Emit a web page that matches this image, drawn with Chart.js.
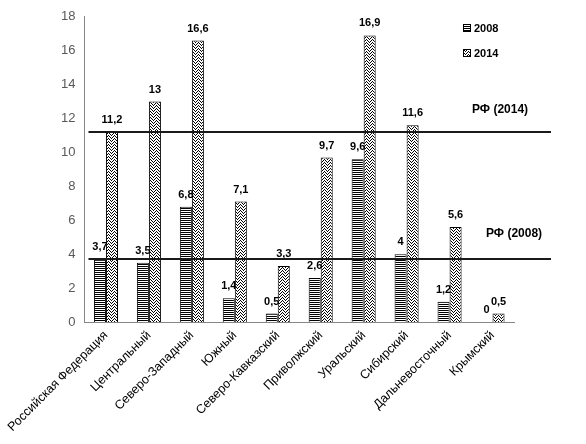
<!DOCTYPE html>
<html>
<head>
<meta charset="utf-8">
<script src="https://cdn.jsdelivr.net/npm/chart.js@4/dist/chart.umd.min.js"></script>
<style>
  html, body { margin: 0; padding: 0; background: #fff; }
  #wrap { width: 586px; height: 444px; }
</style>
</head>
<body>
<div id="wrap"><canvas id="c" width="586" height="444"></canvas></div>
<script>
const categories = ['Российская Федерация','Центральный','Северо-Западный','Южный','Северо-Кавказский','Приволжский','Уральский','Сибирский','Дальневосточный','Крымский'];
const series2008 = [3.7, 3.5, 6.8, 1.4, 0.5, 2.6, 9.6, 4, 1.2, 0];
const series2014 = [11.2, 13, 16.6, 7.1, 3.3, 9.7, 16.9, 11.6, 5.6, 0.5];
const seriesNames = ['2008', '2014'];
const refValues = [11.2, 3.7];
const refLabels = ['РФ (2014)', 'РФ (2008)'];
const yTicks = [0, 2, 4, 6, 8, 10, 12, 14, 16, 18];

function stripePattern() {
  const c = document.createElement('canvas');
  c.width = 4; c.height = 2;
  const x = c.getContext('2d');
  x.fillStyle = '#fff'; x.fillRect(0, 0, 4, 2);
  x.fillStyle = '#000'; x.fillRect(0, 0, 4, 1);
  return x.createPattern(c, 'repeat');
}
function zigzagPattern() {
  const w = 6, h = 6;
  const c = document.createElement('canvas');
  c.width = w; c.height = h;
  const x = c.getContext('2d');
  x.fillStyle = '#fff'; x.fillRect(0, 0, w, h);
  x.fillStyle = '#000';
  const tri = [0, 1, 2, 3, 2, 1];
  for (let i = 0; i < w; i++) {
    x.fillRect(i, tri[i] % h, 1, 1);
    x.fillRect(i, (tri[i] + 3) % h, 1, 1);
  }
  return x.createPattern(c, 'repeat');
}
const pat2008 = stripePattern();
const pat2014 = zigzagPattern();

const fmt = v => String(v).replace('.', ',');

const overlay = {
  id: 'overlay',
  afterDatasetsDraw(chart) {
    const ctx = chart.ctx;
    const y = chart.scales.y;
    const area = chart.chartArea;
    ctx.save();
    // data labels
    ctx.font = 'bold 11px "Liberation Sans", Arial, sans-serif';
    ctx.fillStyle = '#000';
    ctx.textAlign = 'center';
    ctx.textBaseline = 'alphabetic';
    chart.data.datasets.forEach((ds, di) => {
      const meta = chart.getDatasetMeta(di);
      meta.data.forEach((bar, i) => {
        ctx.fillText(fmt(ds.data[i]), bar.x, bar.y - 9);
      });
    });
    // reference lines
    ctx.strokeStyle = '#1a1a1a';
    ctx.lineWidth = 2;
    refValues.forEach((v, i) => {
      const py = Math.round(y.getPixelForValue(v));
      ctx.beginPath();
      ctx.moveTo(area.left + 4, py);
      ctx.lineTo(area.right + 37, py);
      ctx.stroke();
    });
    ctx.font = 'bold 12px "Liberation Sans", Arial, sans-serif';
    ctx.textAlign = 'left';
    ctx.textBaseline = 'middle';
    const offs = [[-42, -22], [-28, -26]];
    refValues.forEach((v, i) => {
      const py = y.getPixelForValue(v);
      ctx.fillText(refLabels[i], area.right + offs[i][0], py + offs[i][1]);
    });
    // legend
    const pats = [pat2008, pat2014];
    ctx.font = 'bold 11px "Liberation Sans", Arial, sans-serif';
    seriesNames.forEach((n, i) => {
      const ly = 28 + i * 25;
      ctx.fillStyle = pats[i];
      ctx.fillRect(463, ly - 4, 8, 8);
      ctx.strokeStyle = '#000';
      ctx.lineWidth = 1;
      ctx.strokeRect(463.5, ly - 3.5, 7, 7);
      ctx.fillStyle = '#000';
      ctx.fillText(n, 474, ly + 1);
    });
    ctx.restore();
  }
};

new Chart(document.getElementById('c'), {
  type: 'bar',
  data: {
    labels: categories,
    datasets: [
      { label: seriesNames[0], data: series2008, backgroundColor: pat2008, borderColor: '#000', borderWidth: 1, categoryPercentage: 0.56, barPercentage: 1 },
      { label: seriesNames[1], data: series2014, backgroundColor: pat2014, borderColor: '#000', borderWidth: 1, categoryPercentage: 0.56, barPercentage: 1 }
    ]
  },
  options: {
    responsive: false,
    animation: false,
    devicePixelRatio: 1,
    layout: { padding: { top: 9, right: 72, left: 0, bottom: 0 } },
    plugins: { legend: { display: false }, tooltip: { enabled: false } },
    scales: {
      x: {
        grid: { display: false, drawTicks: false },
        border: { display: true, color: '#868686', width: 1 },
        ticks: {
          color: '#000',
          font: { family: '"Liberation Sans", Arial, sans-serif', size: 12.5 },
          maxRotation: 45, minRotation: 45, autoSkip: false, padding: 6
        },
        afterFit(s) { s.height = 122; }
      },
      y: {
        min: 0, max: 18,
        grid: { display: false, drawTicks: false },
        border: { display: true, color: '#868686', width: 1 },
        afterBuildTicks(s) { s.ticks = yTicks.map(v => ({ value: v })); },
        ticks: {
          color: '#595959',
          font: { family: '"Liberation Sans", Arial, sans-serif', size: 13 },
          padding: 9
        },
        afterFit(s) { s.width = 81; }
      }
    }
  },
  plugins: [overlay]
});
</script>
</body>
</html>
